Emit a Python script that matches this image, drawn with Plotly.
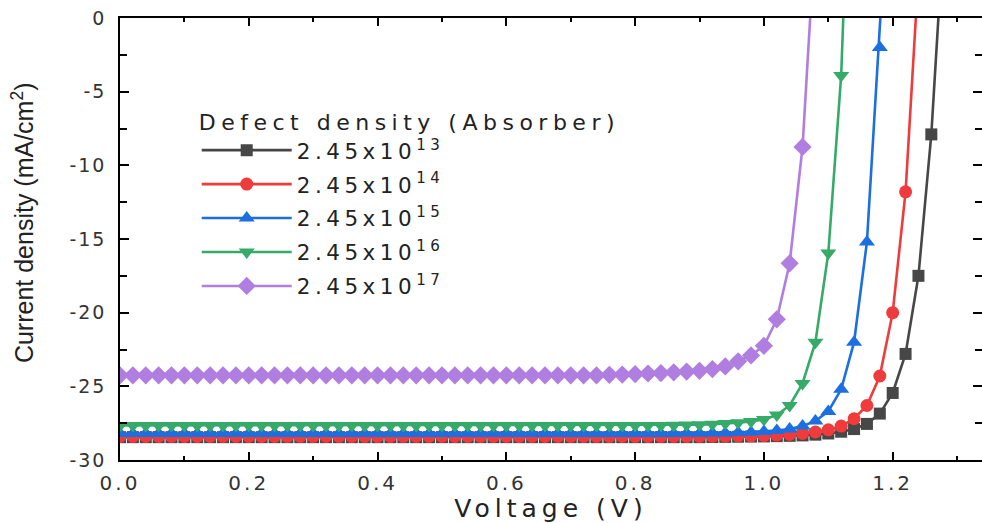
import plotly.graph_objects as go

voltage = [0.00, 0.02, 0.04, 0.06, 0.08, 0.10, 0.12, 0.14, 0.16, 0.18,
           0.20, 0.22, 0.24, 0.26, 0.28, 0.30, 0.32, 0.34, 0.36, 0.38,
           0.40, 0.42, 0.44, 0.46, 0.48, 0.50, 0.52, 0.54, 0.56, 0.58,
           0.60, 0.62, 0.64, 0.66, 0.68, 0.70, 0.72, 0.74, 0.76, 0.78,
           0.80, 0.82, 0.84, 0.86, 0.88, 0.90, 0.92, 0.94, 0.96, 0.98,
           1.00, 1.02, 1.04, 1.06, 1.08, 1.10, 1.12, 1.14, 1.16, 1.18,
           1.20, 1.22, 1.24, 1.26, 1.28]

# Current density (mA/cm2) for each absorber defect density
j_13 = [-28.45, -28.45, -28.45, -28.45, -28.45, -28.45, -28.45, -28.45, -28.45, -28.45,
        -28.45, -28.45, -28.45, -28.45, -28.45, -28.45, -28.45, -28.45, -28.45, -28.45,
        -28.45, -28.45, -28.45, -28.45, -28.45, -28.45, -28.45, -28.45, -28.45, -28.45,
        -28.45, -28.45, -28.45, -28.45, -28.45, -28.45, -28.45, -28.45, -28.45, -28.45,
        -28.45, -28.45, -28.45, -28.45, -28.45, -28.45, -28.44, -28.43, -28.42, -28.41,
        -28.40, -28.38, -28.36, -28.33, -28.28, -28.20, -28.08, -27.90, -27.55, -26.85,
        -25.45, -22.80, -17.50, -7.90, 6.50]
j_14 = [-28.40, -28.40, -28.40, -28.40, -28.40, -28.40, -28.40, -28.40, -28.40, -28.40,
        -28.40, -28.40, -28.40, -28.40, -28.40, -28.40, -28.40, -28.40, -28.40, -28.40,
        -28.40, -28.40, -28.40, -28.40, -28.40, -28.40, -28.40, -28.40, -28.40, -28.40,
        -28.40, -28.40, -28.40, -28.40, -28.40, -28.40, -28.40, -28.40, -28.40, -28.40,
        -28.40, -28.40, -28.40, -28.40, -28.40, -28.40, -28.39, -28.38, -28.37, -28.36,
        -28.34, -28.31, -28.27, -28.20, -28.10, -27.95, -27.70, -27.20, -26.30, -24.30,
        -20.00, -11.80, 3.00]
j_15 = [-28.20, -28.20, -28.20, -28.20, -28.20, -28.20, -28.20, -28.20, -28.20, -28.20,
        -28.20, -28.20, -28.20, -28.20, -28.20, -28.20, -28.20, -28.20, -28.20, -28.20,
        -28.20, -28.20, -28.20, -28.20, -28.20, -28.20, -28.20, -28.20, -28.20, -28.20,
        -28.20, -28.20, -28.20, -28.20, -28.20, -28.20, -28.20, -28.20, -28.20, -28.20,
        -28.20, -28.20, -28.20, -28.20, -28.19, -28.18, -28.17, -28.16, -28.14, -28.11,
        -28.07, -28.00, -27.90, -27.70, -27.35, -26.70, -25.20, -22.00, -15.20, -2.00,
        14.00]
j_16 = [-27.65, -27.65, -27.65, -27.65, -27.65, -27.65, -27.65, -27.65, -27.65, -27.65,
        -27.65, -27.65, -27.65, -27.65, -27.65, -27.65, -27.65, -27.65, -27.65, -27.65,
        -27.65, -27.65, -27.65, -27.65, -27.65, -27.65, -27.65, -27.65, -27.65, -27.65,
        -27.65, -27.65, -27.65, -27.65, -27.65, -27.65, -27.65, -27.65, -27.65, -27.65,
        -27.65, -27.65, -27.65, -27.64, -27.62, -27.60, -27.57, -27.53, -27.47, -27.38,
        -27.25, -26.95, -26.30, -24.80, -22.00, -15.95, -3.90, 20.00]
j_17 = [-24.25, -24.25, -24.25, -24.25, -24.25, -24.25, -24.25, -24.25, -24.25, -24.25,
        -24.25, -24.25, -24.25, -24.25, -24.25, -24.25, -24.25, -24.25, -24.25, -24.25,
        -24.25, -24.25, -24.25, -24.25, -24.25, -24.25, -24.25, -24.25, -24.25, -24.25,
        -24.25, -24.25, -24.25, -24.25, -24.25, -24.25, -24.25, -24.25, -24.22, -24.20,
        -24.17, -24.13, -24.10, -24.05, -24.00, -23.95, -23.83, -23.65, -23.30, -22.90,
        -22.25, -20.45, -16.65, -8.75, 6.00]

exponents = ["13", "14", "15", "16", "17"]
series = [j_13, j_14, j_15, j_16, j_17]
colors = ["#474747", "#ef3b3b", "#1b6fe0", "#36aa68", "#b07ee0"]
symbols = ["square", "circle", "triangle-up", "triangle-down", "diamond"]
sizes = [12, 13, 14, 14, 14]

y_ticks = [0, -5, -10, -15, -20, -25, -30]
y_ticktext = ["0", "-5", "-10", "-15", "-20", "-25", "-30"]
x_ticks = [0.0, 0.2, 0.4, 0.6, 0.8, 1.0, 1.2]
x_ticktext = ["0.0", "0.2", "0.4", "0.6", "0.8", "1.0", "1.2"]

WIDE = "DejaVu Sans"


def spaced(txt, px):
    return f"<span style='letter-spacing:{px}px'>{txt}</span>"


fig = go.Figure()
for i, j in enumerate(series):
    fig.add_trace(go.Scatter(
        x=voltage[:len(j)], y=j,
        name=spaced(f"2.45x10<sup>{exponents[i]}</sup>", 4.5),
        mode="lines+markers",
        legendgroup=f"g{i}",
        line=dict(color=colors[i], width=2.6),
        marker=dict(symbol=symbols[i], size=sizes[i], color=colors[i],
                    line=dict(width=0)),
    ))
# helper trace so the mirrored right-hand axis (ticks only) is drawn
fig.add_trace(go.Scatter(x=[], y=[], yaxis="y2", showlegend=False, hoverinfo="skip"))

fig.update_layout(
    width=982, height=523,
    margin=dict(l=120, r=0, t=18, b=63),
    paper_bgcolor="white", plot_bgcolor="white",
    font=dict(family=WIDE, color="#222222"),
    showlegend=True,
    legend=dict(
        x=0.089, y=0.812, xanchor="left", yanchor="top",
        bgcolor="rgba(0,0,0,0)", borderwidth=0,
        font=dict(family=WIDE, size=21.5, color="#222222"),
        title=dict(text=spaced("Defect density (Absorber)", 5.5),
                   font=dict(family=WIDE, size=22, color="#222222")),
        tracegroupgap=3, itemwidth=90,
    ),
    xaxis=dict(
        range=[0, 1.3387], showgrid=False, zeroline=False,
        showline=True, linecolor="black", linewidth=1.5, mirror="ticks",
        ticks="inside", ticklen=8, tickwidth=1.5, tickcolor="black",
        tickmode="array", tickvals=x_ticks,
        ticktext=[spaced(t, 3) for t in x_ticktext],
        minor=dict(dtick=0.1, tick0=0, ticks="inside", ticklen=4.5,
                   tickwidth=1.5, tickcolor="black"),
        tickfont=dict(family=WIDE, size=20, color="#333333"),
        ticklabelstandoff=4,
        title=dict(text=spaced("Voltage (V)", 5), standoff=6,
                   font=dict(family=WIDE, size=25, color="#222222")),
    ),
    yaxis=dict(
        range=[-30, 0], showgrid=False, zeroline=False,
        showline=True, linecolor="black", linewidth=1.5, mirror=False,
        ticks="inside", ticklen=9, tickwidth=1.5, tickcolor="black",
        tickmode="array", tickvals=y_ticks,
        ticktext=[spaced(t, 2) for t in y_ticktext],
        minor=dict(dtick=2.5, tick0=0, ticks="inside", ticklen=7,
                   tickwidth=1.5, tickcolor="black"),
        tickfont=dict(family=WIDE, size=19, color="#333333"),
        ticklabelstandoff=8,
        title=dict(text=""),
    ),
    yaxis2=dict(
        range=[-30, 0], overlaying="y", side="right", anchor="x",
        showgrid=False, zeroline=False, showline=False,
        ticks="inside", ticklen=9, tickwidth=1.5, tickcolor="black",
        tick0=0, dtick=5, showticklabels=False,
        minor=dict(dtick=2.5, tick0=0, ticks="inside", ticklen=7,
                   tickwidth=1.5, tickcolor="black"),
    ),
)

fig.add_annotation(
    text="Current density (mA/cm<sup>2</sup>)",
    xref="paper", yref="paper", x=-0.1125, y=0.536,
    xanchor="center", yanchor="middle", textangle=-90, showarrow=False,
    font=dict(family="Liberation Sans", size=25, color="#222222"),
)

fig.write_html("out.html")
